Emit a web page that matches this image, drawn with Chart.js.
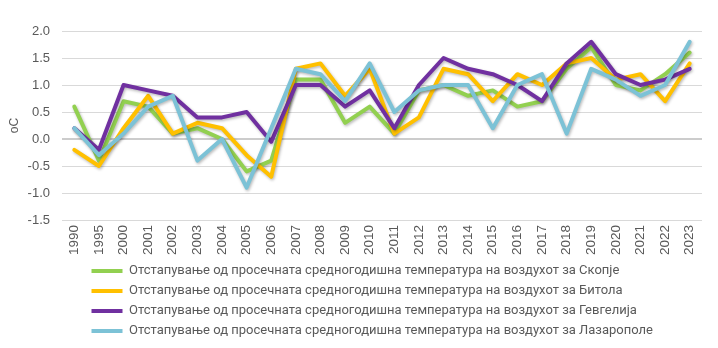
<!DOCTYPE html>
<html>
<head>
<meta charset="utf-8">
<script src="https://cdn.jsdelivr.net/npm/chart.js@4"></script>
<style>
  html,body{margin:0;padding:0;background:#fff;}
  #wrap{width:718px;height:348px;position:relative;}
</style>
</head>
<body>
<div id="wrap"><canvas id="chart"></canvas></div>
<script>
/* ---------- data ---------- */
const years = ["1990","1995","2000","2001","2002","2003","2004","2005","2006","2007","2008","2009","2010",
               "2011","2012","2013","2014","2015","2016","2017","2018","2019","2020","2021","2022","2023"];

const skopje     = [0.6,-0.4,0.7,0.6,0.1,0.2,0.0,-0.6,-0.4,1.1,1.1,0.3,0.6,0.1,0.9,1.0,0.8,0.9,0.6,0.7,1.3,1.7,1.0,0.9,1.2,1.6];
const bitola     = [-0.2,-0.5,0.2,0.8,0.1,0.3,0.2,-0.3,-0.7,1.3,1.4,0.8,1.3,0.1,0.4,1.3,1.2,0.7,1.2,1.0,1.4,1.5,1.1,1.2,0.7,1.4];
const gevgelija  = [0.2,-0.2,1.0,0.9,0.8,0.4,0.4,0.5,-0.05,1.0,1.0,0.6,0.9,0.2,1.0,1.5,1.3,1.2,1.0,0.7,1.4,1.8,1.2,1.0,1.1,1.3];
const lazaropole = [0.2,-0.3,0.1,0.6,0.8,-0.4,0.0,-0.9,0.2,1.3,1.2,0.7,1.4,0.5,0.9,1.0,1.0,0.2,1.0,1.2,0.1,1.3,1.1,0.8,1.0,1.8];

const seriesNames = [
  "Отстапување од просечната средногодишна температура на воздухот за Скопје",
  "Отстапување од просечната средногодишна температура на воздухот за Битола",
  "Отстапување од просечната средногодишна температура на воздухот за Гевгелија",
  "Отстапување од просечната средногодишна температура на воздухот за Лазарополе"
];
const yTicks = {min:-1.5, max:2.0, step:0.5};
const yTitle = "oC";

/* ---------- chart ---------- */
const TICKFONT = "'Liberation Sans', Arial, sans-serif";
const LEGFONT  = "Roboto, 'Liberation Sans', sans-serif";
const GREY = "#595959";

const mk = (label,data,color,order)=>({
  label, data, order,
  borderColor:color, backgroundColor:color,
  borderWidth:4, pointRadius:0, tension:0,
  borderJoinStyle:"round", borderCapStyle:"round",
  fill:false
});

// soft shadow under the lines, like the office original
const shadow = {
  id:"shadow",
  beforeDatasetDraw(c){ const x=c.ctx; x.save(); x.shadowColor="rgba(0,0,0,0.28)"; x.shadowBlur=3; x.shadowOffsetX=1; x.shadowOffsetY=1.5; },
  afterDatasetDraw(c){ c.ctx.restore(); }
};

// legend rows start further right than chart.js puts them
const legendShift = {
  id:"legendShift",
  afterLayout(c){ const l=c.legend; if(!l) return; l.left+=84.5; l.right+=84.5; }
};

new Chart(document.getElementById("chart"),{
  type:"line",
  data:{
    labels:years,
    datasets:[
      mk(seriesNames[0],skopje,"#92d050",4),
      mk(seriesNames[1],bitola,"#ffc000",3),
      mk(seriesNames[2],gevgelija,"#7030a0",2),
      mk(seriesNames[3],lazaropole,"#7cc2d6",1)
    ]
  },
  options:{
    responsive:true, maintainAspectRatio:false, animation:false,
    layout:{padding:{top:31,right:16,bottom:0.5,left:0}},
    plugins:{
      legend:{
        position:"bottom", align:"start",
        labels:{
          usePointStyle:true, pointStyle:"line", pointStyleWidth:31,
          color:GREY, font:{family:LEGFONT,size:13}, padding:7,
          sort:(a,b)=>a.datasetIndex-b.datasetIndex
        }
      },
      tooltip:{enabled:false}
    },
    scales:{
      x:{
        offset:true,
        grid:{display:false, drawTicks:false},
        border:{display:false},
        ticks:{color:GREY, font:{family:TICKFONT,size:13.5}, minRotation:90, maxRotation:90, autoSkip:false, padding:5},
        afterFit(s){ s.height=37.5; }
      },
      y:{
        min:yTicks.min, max:yTicks.max,
        grid:{
          color:ctx=>ctx.tick && ctx.tick.value===0 ? "#cccccc" : "#d9d9d9",
          lineWidth:ctx=>ctx.tick && ctx.tick.value===0 ? 2 : 1,
          drawTicks:false
        },
        border:{display:false},
        ticks:{stepSize:yTicks.step, color:GREY, font:{family:TICKFONT,size:13}, padding:12,
               callback:v=>v.toFixed(1)},
        title:{display:true, text:yTitle, color:GREY, font:{family:TICKFONT,size:12}, padding:{top:7,bottom:0}},
        afterFit(s){ s.width=62; }
      }
    }
  },
  plugins:[shadow,legendShift]
});
</script>
</body>
</html>
